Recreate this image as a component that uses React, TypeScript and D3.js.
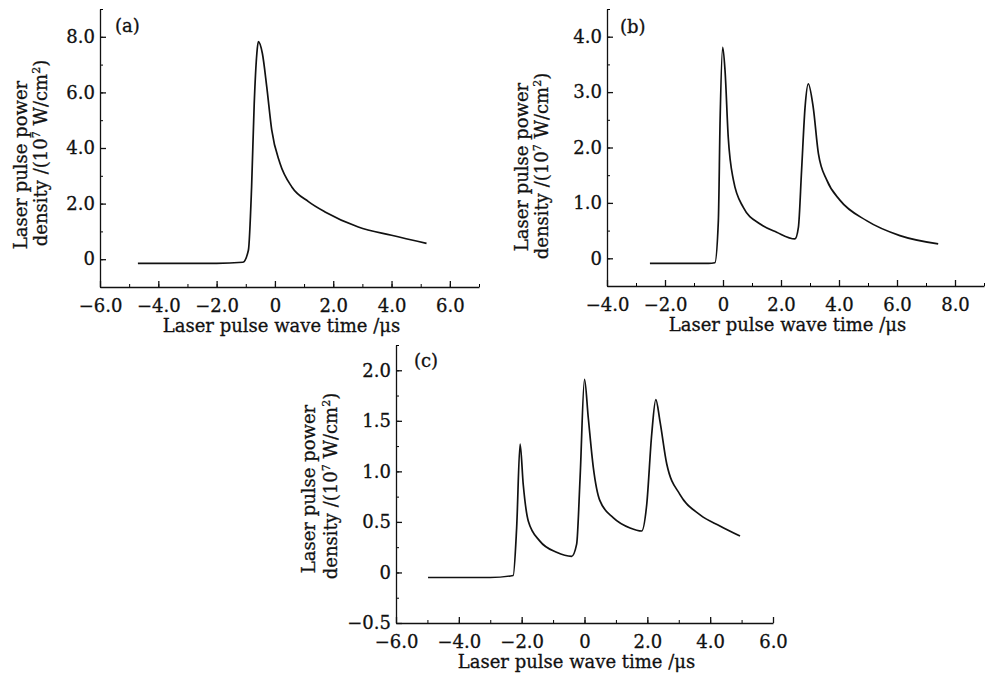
import React, { useEffect, useRef } from "react";
import * as d3 from "d3";

// (a) single pulse
const timeA = [-4.7, -3.5, -2.0, -1.1, -0.91, -0.8, -0.71, -0.62, -0.57, -0.43, -0.28, -0.11, 0.17, 0.58, 1.15, 1.72, 2.86, 4.0, 5.2];
const powerA = [-0.15, -0.15, -0.15, -0.11, 0.32, 2.6, 5.6, 7.4, 7.83, 7.4, 6.2, 4.65, 3.46, 2.6, 2.07, 1.7, 1.16, 0.86, 0.57];

// (b) double pulse
const timeB = [-2.52, -1.5, -0.5, -0.28, -0.16, -0.1, -0.01, 0.07, 0.18, 0.36, 0.7, 1.28, 1.85, 2.48, 2.6, 2.71, 2.83, 2.94, 3.11, 3.29, 3.58, 4.03, 4.95, 6.1, 7.42];
const powerB = [-0.09, -0.09, -0.09, -0.08, 0.68, 2.49, 3.81, 3.39, 2.19, 1.41, 0.92, 0.62, 0.47, 0.35, 0.56, 1.59, 2.73, 3.15, 2.73, 1.89, 1.41, 1.05, 0.68, 0.41, 0.26];

// (c) triple pulse
const timeC = [-4.98, -4.0, -3.0, -2.27, -2.16, -2.05, -1.95, -1.79, -1.42, -0.89, -0.41, -0.25, -0.14, 0.0, 0.12, 0.28, 0.49, 0.92, 1.45, 1.82, 1.98, 2.14, 2.27, 2.4, 2.62, 3.04, 3.68, 4.31, 4.95];
const powerC = [-0.05, -0.05, -0.05, -0.03, 0.44, 1.27, 0.87, 0.51, 0.31, 0.2, 0.16, 0.28, 0.94, 1.91, 1.53, 1.04, 0.71, 0.54, 0.44, 0.41, 0.67, 1.37, 1.71, 1.5, 1.07, 0.77, 0.57, 0.46, 0.36];

// tick labels
const xTicksA = [-6, -4, -2, 0, 2, 4, 6];
const yTicksA = [0, 2, 4, 6, 8];
const xTicksB = [-4, -2, 0, 2, 4, 6, 8];
const yTicksB = [0, 1, 2, 3, 4];
const xTicksC = [-6, -4, -2, 0, 2, 4, 6];
const yTicksC = [-0.5, 0, 0.5, 1.0, 1.5, 2.0];

const xTitle = "Laser pulse wave time /\u03bcs";
const FONT = "'DejaVu Serif', serif";
const INK = "#111";

const fmt = (d: number) => (d === 0 ? "0" : d.toFixed(1).replace("-", "\u2212"));

const panels = [
  {
    tag: "(a)", time: timeA, power: powerA,
    xDomain: [-6, 7], yDomain: [-1, 9], xRange: [100, 479], yRange: [287, 9],
    xMajor: xTicksA, xMinor: d3.range(-6, 7.01, 1), yMajor: yTicksA, yMinor: d3.range(-1, 9.01, 1),
    yLab: [[-73, 165], [-53, 153]], tagPos: [115, 32],
  },
  {
    tag: "(b)", time: timeB, power: powerB,
    xDomain: [-4, 9], yDomain: [-0.5, 4.5], xRange: [607, 984], yRange: [286, 9],
    xMajor: xTicksB, xMinor: d3.range(-4, 9.01, 1), yMajor: yTicksB, yMinor: d3.range(-0.5, 4.51, 0.5),
    yLab: [[-79, 167], [-59, 166]], tagPos: [620, 33],
  },
  {
    tag: "(c)", time: timeC, power: powerC,
    xDomain: [-6, 6], yDomain: [-0.5, 2.25], xRange: [396, 773], yRange: [623, 345],
    xMajor: xTicksC, xMinor: d3.range(-6, 6.01, 1), yMajor: yTicksC, yMinor: d3.range(-0.5, 2.26, 0.25),
    yLab: [[-81, 489], [-59, 486]], tagPos: [414, 367],
  },
];

export default function App() {
  const ref = useRef<SVGSVGElement>(null);

  useEffect(() => {
    const svg = d3.select(ref.current);
    svg.selectAll("*").remove();

    panels.forEach((p) => {
      const x = d3.scaleLinear().domain(p.xDomain).range(p.xRange);
      const y = d3.scaleLinear().domain(p.yDomain).range(p.yRange);
      const g = svg.append("g");
      const x0 = p.xRange[0];
      const yb = p.yRange[0];

      // minor ticks
      g.append("g")
        .attr("transform", `translate(0,${yb})`)
        .call(d3.axisBottom(x).tickValues(p.xMinor).tickSize(-3).tickSizeOuter(0).tickFormat(() => ""))
        .call((s) => s.select(".domain").remove());
      g.append("g")
        .attr("transform", `translate(${x0},0)`)
        .call(d3.axisLeft(y).tickValues(p.yMinor).tickSize(-3).tickSizeOuter(0).tickFormat(() => ""))
        .call((s) => s.select(".domain").remove());

      // major ticks + labels
      const xa = g.append("g")
        .attr("transform", `translate(0,${yb})`)
        .call(d3.axisBottom(x).tickValues(p.xMajor).tickSize(-6).tickSizeOuter(0).tickPadding(12).tickFormat((d) => fmt(+d)));
      const ya = g.append("g")
        .attr("transform", `translate(${x0},0)`)
        .call(d3.axisLeft(y).tickValues(p.yMajor).tickSize(-6).tickSizeOuter(0).tickPadding(5).tickFormat((d) => fmt(+d)));

      [xa, ya].forEach((a) => {
        a.selectAll("text").attr("font-family", FONT).attr("font-size", 18).attr("fill", INK)
          .attr("stroke", INK).attr("stroke-width", 0.3);
        a.selectAll("line, path").attr("stroke", INK).attr("stroke-width", 1.3);
      });

      // curve
      const pts = p.time.map((t, i) => [t, p.power[i]] as [number, number]);
      g.append("path")
        .datum(pts)
        .attr("fill", "none")
        .attr("stroke", INK)
        .attr("stroke-width", 1.7)
        .attr("stroke-linejoin", "round")
        .attr("d", d3.line<[number, number]>().x((d) => x(d[0])).y((d) => y(d[1])).curve(d3.curveMonotoneX));

      const label = (sel: any) =>
        sel.attr("font-family", FONT).attr("font-size", 18).attr("fill", INK)
          .attr("stroke", INK).attr("stroke-width", 0.3);

      // x title
      g.append("text")
        .attr("x", (p.xRange[0] + p.xRange[1]) / 2 - 8)
        .attr("y", yb + 45)
        .attr("text-anchor", "middle")
        .call(label)
        .text(xTitle);

      // y title, two lines
      g.append("text")
        .attr("transform", `translate(${x0 + p.yLab[0][0]},${p.yLab[0][1]}) rotate(-90)`)
        .attr("text-anchor", "middle")
        .call(label)
        .text("Laser pulse power");
      const t2 = g.append("text")
        .attr("transform", `translate(${x0 + p.yLab[1][0]},${p.yLab[1][1]}) rotate(-90)`)
        .attr("text-anchor", "middle")
        .call(label);
      t2.append("tspan").text("density /(10");
      t2.append("tspan").attr("dy", -7).attr("font-size", 11).text("7");
      t2.append("tspan").attr("dy", 7).text(" W/cm");
      t2.append("tspan").attr("dy", -7).attr("font-size", 11).text("2");
      t2.append("tspan").attr("dy", 7).text(")");

      // panel tag
      g.append("text")
        .attr("x", p.tagPos[0])
        .attr("y", p.tagPos[1])
        .call(label)
        .text(p.tag);
    });
  }, []);

  return (
    <svg
      ref={ref}
      width={985}
      height={679}
      style={{ position: "absolute", left: 0, top: 0, background: "#fff" }}
    />
  );
}
